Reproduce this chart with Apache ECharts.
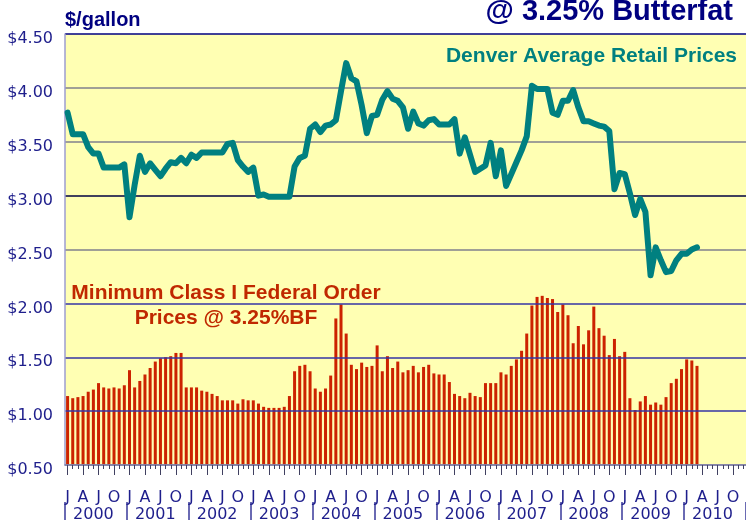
<!DOCTYPE html>
<html>
<head>
<meta charset="utf-8">
<title>Denver Milk Prices</title>
<script src="https://cdn.jsdelivr.net/npm/echarts@6/dist/echarts.min.js"></script>
<style>
  html, body { margin: 0; padding: 0; background: #ffffff; }
  #main { width: 746px; height: 523px; }
</style>
</head>
<body>
<div id="main"></div>
<script>
  /* categories: one per month, Jan 2000 .. Dec 2010 */
  var years = ['2000', '2001', '2002', '2003', '2004', '2005', '2006', '2007', '2008', '2009', '2010'];
  var monthLetters = ['J', 'F', 'M', 'A', 'M', 'J', 'J', 'A', 'S', 'O', 'N', 'D'];
  var months = [];
  years.forEach(function (y) {
    monthLetters.forEach(function (m, i) {
      months.push(y + '-' + (i + 1));
    });
  });

  /* y axis ticks ($/gallon) */
  var yTicks = [0.5, 1.0, 1.5, 2.0, 2.5, 3.0, 3.5, 4.0, 4.5];

  /* Denver average retail price, Jan 2000 .. Mar 2010 */
  var retailPrices = [
    3.77, 3.57, 3.57, 3.57, 3.45, 3.39, 3.39, 3.26, 3.26, 3.26, 3.26, 3.29,
    2.80, 3.10, 3.37, 3.22, 3.30, 3.24, 3.18, 3.25, 3.31, 3.30, 3.35, 3.30,
    3.38, 3.35, 3.40, 3.40, 3.40, 3.40, 3.40, 3.48, 3.49, 3.33, 3.27, 3.22,
    3.26, 3.00, 3.01, 2.99, 2.99, 2.99, 2.99, 2.99, 3.27, 3.35, 3.37, 3.62,
    3.66, 3.59, 3.65, 3.66, 3.70, 3.97, 4.23, 4.09, 4.06, 3.84, 3.58, 3.74,
    3.75, 3.89, 3.97, 3.90, 3.88, 3.82, 3.62, 3.78, 3.67, 3.65, 3.70, 3.71,
    3.66, 3.66, 3.66, 3.71, 3.39, 3.54, 3.38, 3.22, 3.25, 3.28, 3.49, 3.18,
    3.42, 3.09, 3.20, 3.31, 3.42, 3.55, 4.02, 3.99, 3.99, 3.99, 3.77, 3.75,
    3.88, 3.88, 3.98, 3.82, 3.69, 3.69, 3.67, 3.65, 3.64, 3.60, 3.06, 3.21,
    3.20, 3.02, 2.82, 2.97, 2.85, 2.26, 2.52, 2.40, 2.29, 2.30, 2.40, 2.46,
    2.46, 2.50, 2.52
  ];

  /* minimum class I federal order price @ 3.25% BF */
  var classIPrices = [
    1.14, 1.12, 1.13, 1.14, 1.18, 1.20, 1.26, 1.22, 1.21, 1.22, 1.21, 1.24,
    1.38, 1.22, 1.28, 1.34, 1.40, 1.46, 1.49, 1.50, 1.51, 1.54, 1.54, 1.22,
    1.22, 1.22, 1.19, 1.18, 1.16, 1.14, 1.10, 1.10, 1.10, 1.07, 1.11, 1.10,
    1.10, 1.07, 1.04, 1.03, 1.03, 1.03, 1.04, 1.14, 1.37, 1.42, 1.43, 1.37,
    1.21, 1.18, 1.21, 1.33, 1.86, 1.99, 1.72, 1.43, 1.39, 1.45, 1.41, 1.42,
    1.61, 1.37, 1.51, 1.40, 1.46, 1.36, 1.38, 1.42, 1.36, 1.41, 1.43, 1.35,
    1.34, 1.34, 1.27, 1.16, 1.14, 1.12, 1.17, 1.14, 1.13, 1.26, 1.26, 1.26,
    1.36, 1.34, 1.42, 1.48, 1.56, 1.72, 1.98, 2.06, 2.07, 2.05, 2.04, 1.92,
    1.99, 1.89, 1.63, 1.79, 1.62, 1.75, 1.97, 1.77, 1.70, 1.52, 1.67, 1.51,
    1.55, 1.12, 1.01, 1.09, 1.14, 1.06, 1.08, 1.06, 1.13, 1.26, 1.30, 1.39,
    1.48, 1.47, 1.42
  ];

  var navy = '#000080';
  var labelColor = '#1e1e8c';
  var labelFont = 'DejaVu Sans';
  var titleFont = 'Liberation Sans';

  var chart = echarts.init(document.getElementById('main'));
  chart.setOption({
    animation: false,
    backgroundColor: '#ffffff',
    grid: {
      left: 65,
      right: 0,
      top: 34,
      bottom: 55,
      show: true,
      backgroundColor: '#ffffb3',
      borderWidth: 0
    },
    graphic: [
      {
        type: 'text', x: 65, y: 20,
        style: {text: '$/gallon', fill: navy, font: 'bold 20px "' + titleFont + '"', verticalAlign: 'middle'}
      },
      {
        type: 'text', x: 733, y: 12,
        style: {text: '@ 3.25% Butterfat', fill: navy, font: 'bold 29px "' + titleFont + '"', align: 'right', verticalAlign: 'middle'}
      },
      {
        type: 'text', x: 737, y: 56, z: 10,
        style: {text: 'Denver Average Retail Prices', fill: '#008080', font: 'bold 21px "' + titleFont + '"', align: 'right', verticalAlign: 'middle'}
      },
      {
        type: 'text', x: 226, y: 306, z: 10,
        style: {
          text: 'Minimum Class I Federal Order\nPrices @ 3.25%BF', fill: '#c02800',
          font: 'bold 21px "' + titleFont + '"', align: 'center', verticalAlign: 'middle', lineHeight: 25
        }
      }
    ],
    xAxis: [
      {
        /* month letters + monthly ticks */
        type: 'category',
        position: 'bottom',
        data: months,
        z: 4,
        axisLine: {show: true, lineStyle: {color: '#8080a8', width: 1.5}},
        axisTick: {show: true, alignWithLabel: true, interval: 0, length: 4, lineStyle: {color: '#404060', width: 1}},
        axisLabel: {
          show: true,
          interval: 2,
          margin: 25,
          color: labelColor,
          fontFamily: labelFont,
          fontSize: 16,
          formatter: function (value, index) {
            return monthLetters[index % 12];
          }
        },
        splitLine: {show: false}
      },
      {
        /* quarter ticks */
        type: 'category',
        position: 'bottom',
        data: months,
        z: 4,
        axisLine: {show: false},
        axisTick: {show: true, alignWithLabel: true, interval: 2, length: 10, lineStyle: {color: '#404060', width: 1}},
        axisLabel: {show: false},
        splitLine: {show: false}
      },
      {
        /* years with separators */
        type: 'category',
        position: 'bottom',
        offset: 37,
        data: months,
        z: 4,
        axisLine: {show: false},
        axisTick: {show: true, interval: 11, length: 18, lineStyle: {color: '#3a3a9a', width: 1.5}},
        axisLabel: {
          show: true,
          interval: function (index) {
            return index % 12 === 5;
          },
          margin: 5,
          color: labelColor,
          fontFamily: labelFont,
          fontSize: 16,
          formatter: function (value) {
            return value.slice(0, 4);
          }
        },
        splitLine: {show: false}
      }
    ],
    yAxis: {
      type: 'value',
      min: yTicks[0],
      max: yTicks[yTicks.length - 1],
      interval: 0.5,
      z: 3,
      axisLine: {show: true, lineStyle: {color: '#9c9cd0', width: 1.5}},
      axisTick: {show: false},
      axisLabel: {
        margin: 12,
        color: labelColor,
        fontFamily: labelFont,
        fontSize: 16,
        verticalAlign: 'top',
        lineHeight: 16,
        padding: [-3, 0, 0, 0],
        formatter: function (v) {
          return '$' + v.toFixed(2);
        }
      },
      splitLine: {
        show: true,
        lineStyle: {
          width: 1.5,
          color: ['#8080a8', '#3535a5', '#3535a5', '#3535a5', '#80808c', '#000040', '#80808c', '#80808c', navy]
        }
      }
    },
    series: [
      {
        name: 'Minimum Class I',
        type: 'bar',
        data: classIPrices,
        barWidth: 3,
        z: 2,
        itemStyle: {color: '#cc2200'}
      },
      {
        name: 'Denver Retail',
        type: 'line',
        data: retailPrices,
        showSymbol: false,
        z: 5,
        lineStyle: {color: '#008080', width: 6, join: 'round', cap: 'round'}
      }
    ]
  });
</script>
</body>
</html>
